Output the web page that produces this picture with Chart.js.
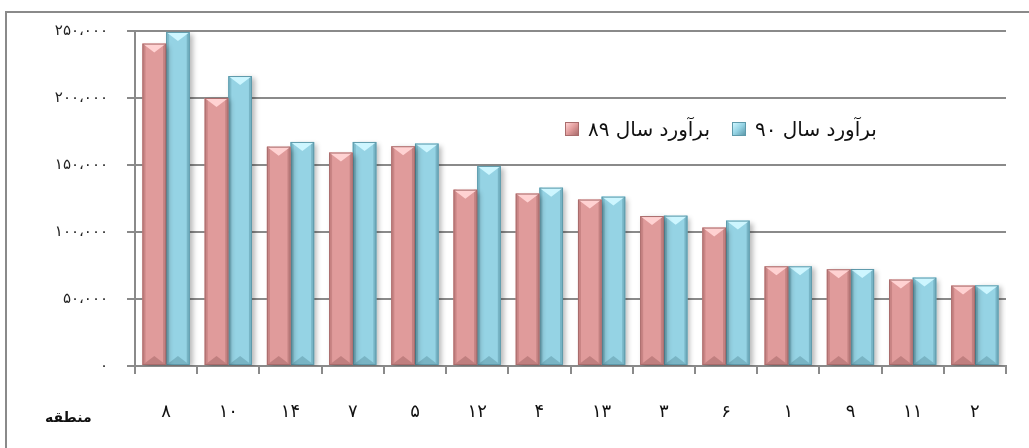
<!DOCTYPE html>
<html>
<head>
<meta charset="utf-8">
<script src="https://cdn.jsdelivr.net/npm/chart.js@4"></script>
<style>
  html, body { margin: 0; padding: 0; background: #fff; }
  #wrap { position: relative; width: 1029px; height: 448px; overflow: hidden; }
  #frame { position: absolute; left: 5px; top: 11px; width: 1100px; height: 500px;
           border-left: 2px solid #8a8a8a; border-top: 2px solid #8a8a8a; pointer-events: none; }
  #legend { position: absolute; left: 565px; top: 117px; display: flex; align-items: center;
            font-family: 'DejaVu Sans', sans-serif; font-size: 20px; color: #111; }
  #legend .item { display: flex; align-items: center; margin-right: 22px; }
  #legend .box { width: 14px; height: 14px; margin-right: 9px; box-sizing: border-box; }
  #axisName { position: absolute; left: 45px; top: 409px; font-family: 'DejaVu Sans', sans-serif;
              font-size: 14px; font-weight: bold; color: #111; direction: rtl; }
</style>
</head>
<body>
<div id="wrap">
  <canvas id="chart"></canvas>
  <div id="frame"></div>
  <div id="legend"></div>
  <div id="axisName">منطقه</div>
</div>
<script>
// Regions (already in display order)
const regions = ['۸', '۱۰', '۱۴', '۷', '۵', '۱۲', '۴', '۱۳', '۳', '۶', '۱', '۹', '۱۱', '۲'];

// Estimates per region
const estimate89 = [240600, 200000, 163700, 159300, 164000, 131600, 128700, 124200, 111900, 103300, 74400, 72200, 64500, 60000];
const estimate90 = [249300, 216400, 167200, 167200, 166000, 149300, 133100, 126400, 112200, 108500, 74400, 72400, 66000, 60200];

const seriesNames = ['برآورد سال ۸۹', 'برآورد سال ۹۰'];

// Y axis ticks
const yTickValues = [0, 50000, 100000, 150000, 200000, 250000];
const yTickLabels = ['۰', '۵۰،۰۰۰', '۱۰۰،۰۰۰', '۱۵۰،۰۰۰', '۲۰۰،۰۰۰', '۲۵۰،۰۰۰'];

const gridColor = '#8a8a8a';

// bar look: fill, edge, light top, dark bottom
const styles = [
  { fill: '#e09b9b', edge: '#a96c6c', side: '#c98585', top: '#ffd2d2', bottom: '#c07f7f' },
  { fill: '#95d3e4', edge: '#5e9aab', side: '#7ebccc', top: '#cdf6ff', bottom: '#79b4c4' }
];

// Draw the bevelled look on top of each bar
const bevelPlugin = {
  id: 'bevel',
  beforeDatasetDraw(chart) {
    const ctx = chart.ctx;
    ctx.save();
    ctx.shadowColor = 'rgba(0,0,0,0.28)';
    ctx.shadowBlur = 5;
    ctx.shadowOffsetX = 3;
    ctx.shadowOffsetY = 2;
  },
  afterDatasetDraw(chart, args) {
    const ctx = chart.ctx;
    ctx.restore();
    const st = styles[args.index];
    args.meta.data.forEach(bar => {
      const { x, y, base, width } = bar.getProps(['x', 'y', 'base', 'width'], true);
      const l = x - width / 2, r = x + width / 2;
      const d = Math.min(9, (base - y) / 3);
      const s = 3;
      ctx.save();
      // side strips
      ctx.fillStyle = st.side;
      ctx.fillRect(l, y, s, base - y);
      ctx.fillStyle = st.edge;
      ctx.globalAlpha = 0.55;
      ctx.fillRect(r - s, y, s, base - y);
      ctx.globalAlpha = 1;
      // top light triangle
      ctx.fillStyle = st.top;
      ctx.beginPath();
      ctx.moveTo(l, y);
      ctx.lineTo(r, y);
      ctx.lineTo(x, y + d);
      ctx.closePath();
      ctx.fill();
      // bottom darker triangle
      ctx.fillStyle = st.bottom;
      ctx.beginPath();
      ctx.moveTo(l, base);
      ctx.lineTo(r, base);
      ctx.lineTo(x, base - d);
      ctx.closePath();
      ctx.fill();
      // outline
      ctx.strokeStyle = st.edge;
      ctx.lineWidth = 1;
      ctx.strokeRect(l + 0.5, y + 0.5, width - 1, base - y - 1);
      ctx.restore();
    });
  }
};

new Chart(document.getElementById('chart'), {
  type: 'bar',
  data: {
    labels: regions,
    datasets: [
      { label: seriesNames[0], data: estimate89, backgroundColor: styles[0].fill, borderWidth: 0 },
      { label: seriesNames[1], data: estimate90, backgroundColor: styles[1].fill, borderWidth: 0 }
    ]
  },
  options: {
    responsive: true,
    maintainAspectRatio: false,
    animation: false,
    layout: { padding: { left: 0, top: 31, right: 23, bottom: 0 } },
    datasets: { bar: { categoryPercentage: 0.76, barPercentage: 1.0 } },
    plugins: {
      legend: { display: false },
      tooltip: { enabled: false }
    },
    scales: {
      x: {
        grid: { drawOnChartArea: false, drawTicks: true, tickLength: 8, color: gridColor, lineWidth: 2, offset: true },
        border: { display: true, color: gridColor, width: 2 },
        ticks: { padding: 28, color: '#111', font: { family: 'DejaVu Sans', size: 18 }, maxRotation: 0 },
        afterFit(scale) { scale.height = 82; }
      },
      y: {
        min: 0,
        max: 250000,
        afterBuildTicks(scale) { scale.ticks = yTickValues.map(v => ({ value: v })); },
        grid: { color: gridColor, lineWidth: 2, tickLength: 8, drawTicks: true },
        border: { display: true, color: gridColor, width: 2 },
        ticks: {
          padding: 19,
          color: '#222',
          font: { family: 'DejaVu Sans', size: 15 },
          callback: v => yTickLabels[yTickValues.indexOf(v)]
        },
        afterFit(scale) { scale.width = 135; }
      }
    }
  },
  plugins: [bevelPlugin]
});

// HTML legend, same order as the picture
const legend = document.getElementById('legend');
seriesNames.forEach((name, i) => {
  const item = document.createElement('div');
  item.className = 'item';
  const box = document.createElement('span');
  box.className = 'box';
  box.style.background = `linear-gradient(135deg, ${styles[i].top}, ${styles[i].fill} 50%, ${styles[i].edge})`;
  box.style.border = `1px solid ${styles[i].edge}`;
  const text = document.createElement('span');
  text.dir = 'rtl';
  text.textContent = name;
  item.appendChild(box);
  item.appendChild(text);
  legend.appendChild(item);
});
</script>
</body>
</html>
